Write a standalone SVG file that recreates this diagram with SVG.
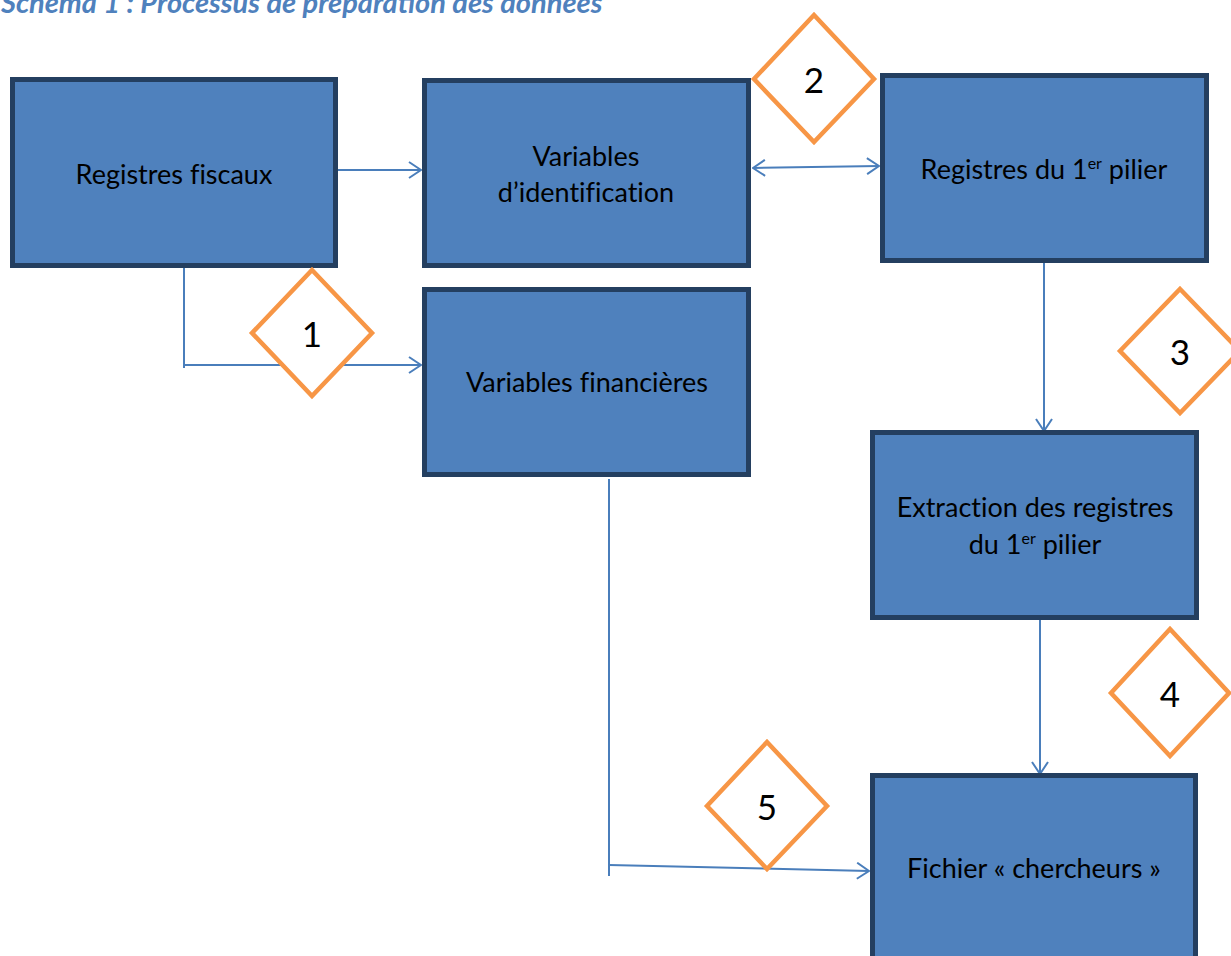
<svg xmlns="http://www.w3.org/2000/svg" width="1231" height="956" viewBox="0 0 1231 956">
<style>
.box{fill:#4F81BD;stroke:#243F60;stroke-width:5}
.dia{fill:#FFFFFF;stroke:#F79646;stroke-width:4.5}
.lbl{font-family:Lato,"Open Sans",sans-serif;font-size:27px;fill:#000;text-anchor:middle;font-variant-ligatures:none}
.num{font-family:Lato,"Open Sans",sans-serif;font-size:35px;fill:#000;text-anchor:middle}
.sup{font-size:16px}
.con{fill:none;stroke:#4A7EBB;stroke-width:2}
.title{font-family:Lato,"Open Sans",sans-serif;font-size:29px;font-weight:bold;font-style:italic;fill:#4F81BD}
</style>
<defs>
<marker id="arr" viewBox="0 0 14 18" refX="13" refY="9" markerWidth="14" markerHeight="18" markerUnits="userSpaceOnUse" orient="auto-start-reverse">
<path d="M1,1 L13,9 L1,17" fill="none" stroke="#4A7EBB" stroke-width="2"/>
</marker>
</defs>
<text class="title" x="1" y="13">Schéma 1 : Processus de préparation des données</text>
<g id="connectors">
<line class="con" x1="338" y1="170" x2="421" y2="170" marker-end="url(#arr)"/>
<polyline class="con" points="184,265 184,368"/>
<line class="con" x1="184" y1="365" x2="421" y2="365" marker-end="url(#arr)"/>
<line class="con" x1="753" y1="168" x2="879" y2="166" marker-start="url(#arr)" marker-end="url(#arr)"/>
<line class="con" x1="1044" y1="262" x2="1044" y2="431" marker-end="url(#arr)"/>
<line class="con" x1="609" y1="479" x2="609" y2="876"/>
<line class="con" x1="609" y1="865" x2="869" y2="871" marker-end="url(#arr)"/>
<line class="con" x1="1040" y1="601" x2="1040" y2="774" marker-end="url(#arr)"/>
</g>
<g id="n-registres-fiscaux">
<rect class="box" x="12.5" y="79.5" width="323" height="186"/>
<text class="lbl" x="174" y="184">Registres fiscaux</text>
</g>
<g id="n-variables-identification">
<rect class="box" x="424.5" y="80.5" width="324" height="185"/>
<text class="lbl" x="586" y="166">Variables</text>
<text class="lbl" x="586" y="202">d’identification</text>
</g>
<g id="n-registres-pilier">
<rect class="box" x="882.5" y="75.5" width="324" height="185"/>
<text class="lbl" x="1044" y="179">Registres du 1<tspan class="sup" dy="-10">er</tspan><tspan dy="10"> pilier</tspan></text>
</g>
<g id="n-variables-financieres">
<rect class="box" x="424.5" y="289.5" width="324" height="185"/>
<text class="lbl" x="587" y="392">Variables financières</text>
</g>
<g id="n-extraction">
<rect class="box" x="872.5" y="432.5" width="324" height="185"/>
<text class="lbl" x="1035" y="517">Extraction des registres</text>
<text class="lbl" x="1035" y="554">du 1<tspan class="sup" dy="-10">er</tspan><tspan dy="10"> pilier</tspan></text>
</g>
<g id="n-fichier">
<rect class="box" x="872.5" y="775.5" width="323" height="200"/>
<text class="lbl" x="1034" y="878">Fichier « chercheurs »</text>
</g>
<g id="d1">
<polygon class="dia" points="312,270 372,333 312,396 252,333"/>
<text class="num" x="312" y="347">1</text>
</g>
<g id="d2">
<polygon class="dia" points="814,15 874,79 814,142 754,79"/>
<text class="num" x="814" y="93">2</text>
</g>
<g id="d3">
<polygon class="dia" points="1180,289 1240,351 1180,413 1120,351"/>
<text class="num" x="1180" y="365">3</text>
</g>
<g id="d4">
<polygon class="dia" points="1170,629 1229,693 1170,756 1111,693"/>
<text class="num" x="1170" y="707">4</text>
</g>
<g id="d5">
<polygon class="dia" points="767,742 827,806 767,869 707,806"/>
<text class="num" x="767" y="820">5</text>
</g>
</svg>
